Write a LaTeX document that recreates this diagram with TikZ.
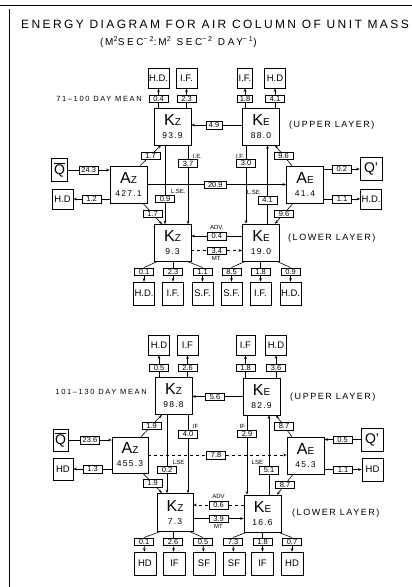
\documentclass[tikz,border=0pt]{standalone}
\usepackage{fontspec}
\setmainfont{Liberation Sans}
\usetikzlibrary{positioning,arrows.meta}

\newcommand{\ename}[2]{{\fontsize{16}{16}\selectfont #1}{\fontsize{10}{10}\selectfont #2}}

\tikzset{
  store/.style={draw, fill=white, line width=0.6pt, minimum width=37pt,
    minimum height=37pt, inner sep=0pt, align=center,
    font=\fontsize{8.5}{13}\selectfont\addfontfeature{LetterSpace=15}},
  sink/.style={draw, line width=0.6pt, minimum width=21pt, minimum height=20pt,
    inner sep=0pt, font=\fontsize{9.5}{10}\selectfont},
  val/.style={draw, solid, fill=white, line width=0.5pt, minimum width=19pt,
    minimum height=7.5pt, inner sep=0pt, font=\fontsize{7.5}{7.5}\selectfont},
  flowtag/.style={inner sep=0pt, font=\fontsize{6}{6}\selectfont},
  tier/.style={anchor=west, inner sep=0pt,
    font=\fontsize{9}{9}\selectfont\addfontfeature{LetterSpace=17}},
  mean/.style={anchor=east, inner sep=0pt,
    font=\fontsize{7.5}{8}\selectfont\addfontfeature{LetterSpace=22}},
  wire/.style={line width=0.6pt},
  flow/.style={line width=0.6pt, -{Stealth[length=3.5pt,width=2.6pt]}},
}

\begin{document}
\begin{tikzpicture}[x=1pt, y=-1pt]
  \useasboundingbox (0,0) rectangle (412,587);
  \draw[wire] (0,5) -- (412,5);
  \draw[wire] (9,9) -- (9,587);

  \node (title) [anchor=west, inner sep=0pt,
        font=\fontsize{12}{12}\selectfont\addfontfeature{LetterSpace=20}]
        at (21,24) {ENERGY DIAGRAM FOR AIR COLUMN OF UNIT MASS};
  \node (units) [anchor=west, inner sep=0pt,
        font=\fontsize{10}{10}\selectfont\addfontfeature{LetterSpace=26}]
        at (100,42) {(\,M\textsuperscript{2}SEC\textsuperscript{−2}:\,M\textsuperscript{2} SEC\textsuperscript{−2} DAY\textsuperscript{−1})};

  % 71-100 day mean
  \node (hd_a1) [sink] at (158.5,78) {H.D.};
  \node (if_a1) [sink] at (186.5,78) {I.F.};
  \node (if_c1) [sink, minimum width=15pt] at (245,78) {I.F.};
  \node (hd_c1) [sink] at (275,78) {H.D};
  \node (v_04) [val] at (158.5,98.5) {0.4};
  \node (v_23) [val] at (186.5,98.5) {2.3};
  \node (v_18) [val, minimum width=15pt] at (245,98.5) {1.8};
  \node (v_41) [val] at (275,98.5) {4.1};

  \node (kz_u1) [store] at (172.5,126.5) {\ename{K}{Z}\\93.9};
  \node (ke_u1) [store] at (261,126.5) {\ename{K}{E}\\88.0};
  \node (mean1) [mean] at (142,99) {71–100 DAY MEAN};
  \node (up1) [tier] at (289,125) {(UPPER LAYER)};

  \node (az1) [store] at (128.5,184.5) {\ename{A}{Z}\\427.1};
  \node (ae1) [store] at (305,184.5) {\ename{A}{E}\\41.4};
  \node (qbar1) [sink, minimum width=16pt, minimum height=23pt,
        font=\fontsize{14}{14}\selectfont] at (59.5,170) {$\overline{\mbox{Q}}$};
  \node (hd_l1) [sink] at (62.5,199) {H.D};
  \node (qp1) [sink, minimum width=22pt, minimum height=23pt,
        font=\fontsize{14}{14}\selectfont] at (371,169) {Q’};
  \node (hd_r1) [sink] at (371,199) {H.D.};

  \node (kz_l1) [store] at (172.5,243) {\ename{K}{Z}\\9.3};
  \node (ke_l1) [store] at (261,242.5) {\ename{K}{E}\\19.0};
  \node (lo1) [tier] at (288,238) {(LOWER LAYER)};

  \node (v_01a) [val] at (144,271.5) {0.1};
  \node (v_23b) [val] at (173,271.5) {2.3};
  \node (v_11b) [val] at (202.5,271.5) {1.1};
  \node (v_85) [val] at (231.5,271.5) {8.5};
  \node (v_18b) [val] at (260.5,271.5) {1.8};
  \node (v_09b) [val] at (290.5,271.5) {0.9};
  \node (hd_b1) [sink, minimum height=23pt] at (144,293.5) {H.D.};
  \node (if_b1) [sink, minimum height=23pt] at (173,293.5) {I.F.};
  \node (sf_b1) [sink, minimum height=23pt] at (202.5,293.5) {S.F.};
  \node (sf_b2) [sink, minimum height=23pt] at (231.5,293.5) {S.F.};
  \node (if_b2) [sink, minimum height=23pt] at (260.5,293.5) {I.F.};
  \node (hd_b2) [sink, minimum height=23pt] at (290.5,293.5) {H.D.};

  \draw[wire] (v_04) -- (v_04 |- kz_u1.north);
  \draw[wire] (v_23) -- (v_23 |- kz_u1.north);
  \draw[wire] (v_18) -- (v_18 |- ke_u1.north);
  \draw[wire] (v_41) -- (v_41 |- ke_u1.north);
  \draw[flow] (v_04) -- (hd_a1);
  \draw[flow] (v_23) -- (if_a1);
  \draw[flow] (v_18) -- (if_c1);
  \draw[flow] (v_41) -- (hd_c1);

  \draw[flow] ([yshift=1.5pt]ke_u1.west) -- node[val, minimum width=16pt, pos=.55] (v_49) {4.9}
        ([yshift=1.5pt]ke_u1.west -| kz_u1.east);
  \draw[flow] ([xshift=11.5pt]az1.north) -- node[val] (v_17a) {1.7} ([xshift=-11.5pt]kz_u1.south);
  \draw[flow] ([xshift=14.5pt]az1.south) -- node[val] (v_17b) {1.7} ([xshift=-10.5pt]kz_l1.north);
  \draw[flow] ([xshift=-7.5pt]kz_u1.south) -- node[val, pos=.68] (v_09) {0.9} ([xshift=-7.5pt]kz_l1.north);
  \node (lse1) [flowtag, above right=1pt and -4pt of v_09] {L.SE.};
  \draw[flow] ([xshift=15.5pt]kz_u1.south) -- node[val, pos=.23] (v_37) {3.7} ([xshift=15.5pt]kz_l1.north);
  \node (ie1) [flowtag, above right=1pt and -5pt of v_37] {I.E.};
  \draw[flow] ([xshift=-15pt]ke_u1.south) -- node[val, pos=.23] (v_30) {3.0} ([xshift=-15pt]ke_l1.north);
  \node (if1) [flowtag, above left=1pt and -8pt of v_30] {I.F.};
  \draw[flow] ([xshift=6.5pt]ke_l1.north) -- node[val, pos=.3] (v_41b) {4.1} ([xshift=6.5pt]ke_u1.south);
  \node (lse2) [flowtag, above left=1pt and -4pt of v_41b] {L.SE.};
  \draw[flow, line width=0.9pt] (az1) -- node[val, minimum width=22pt, pos=.49] (v_209) {20.9} (az1 -| ae1.west);
  \draw[flow] ([xshift=-13pt]ae1.north) -- node[val] (v_96a) {9.6} ([xshift=14pt]ke_u1.south);
  \draw[flow] ([xshift=-12pt]ae1.south) -- node[val] (v_96b) {9.6} ([xshift=14pt]ke_l1.north);
  \draw[flow] (ae1.east |- qp1) -- node[val] (v_02) {0.2} (qp1);
  \draw[flow] (ae1.east |- hd_r1) -- node[val] (v_11a) {1.1} (hd_r1);
  \draw[flow] (qbar1) -- node[val] (v_243) {24.3} (qbar1 -| az1.west);
  \draw[flow] (az1.west |- hd_l1) -- node[val] (v_12) {1.2} (hd_l1);
  \draw[flow] ([yshift=6.5pt]ke_l1.west) -- node[val] (v_04b) {0.4} ([yshift=6.5pt]ke_l1.west -| kz_l1.east);
  \node (adv1) [flowtag, above=2pt of v_04b] {ADV.};
  \draw[flow, dashed] ([yshift=-7.5pt]kz_l1.east) -- node[val] (v_34) {3.4} ([yshift=-7.5pt]kz_l1.east -| ke_l1.west);
  \node (mt1) [flowtag, below=2pt of v_34] {MT.};

  \draw[wire] ([xshift=3pt]kz_l1.south west) -- (v_01a.north);
  \draw[wire] (v_23b |- kz_l1.south) -- (v_23b);
  \draw[wire] ([xshift=-3pt]kz_l1.south east) -- (v_11b.north);
  \draw[wire] ([xshift=3pt]ke_l1.south west) -- (v_85.north);
  \draw[wire] (v_18b |- ke_l1.south) -- (v_18b);
  \draw[wire] ([xshift=-3pt]ke_l1.south east) -- (v_09b.north);
  \draw[flow] (v_01a) -- (hd_b1);
  \draw[flow] (v_23b) -- (if_b1);
  \draw[flow] (v_11b) -- (sf_b1);
  \draw[flow] (v_85) -- (sf_b2);
  \draw[flow] (v_18b) -- (if_b2);
  \draw[flow] (v_09b) -- (hd_b2);

  % 101-130 day mean
  \node (hd_a2) [sink] at (159,345) {H.D};
  \node (if_a2) [sink] at (187.5,345) {I.F};
  \node (if_c2) [sink, minimum width=19pt] at (245.5,345) {I.F};
  \node (hd_c2) [sink] at (276,345) {H.D};
  \node (v_05) [val] at (159,367.5) {0.5};
  \node (v_26) [val] at (187.5,367.5) {2.6};
  \node (v_18c) [val] at (245.5,367.5) {1.8};
  \node (v_36) [val] at (276,367.5) {3.6};

  \node (kz_u2) [store] at (173.5,396) {\ename{K}{Z}\\98.8};
  \node (ke_u2) [store] at (261.5,396.5) {\ename{K}{E}\\82.9};
  \node (mean2) [mean] at (147,392) {101–130 DAY MEAN};
  \node (up2) [tier] at (290,397) {(UPPER LAYER)};

  \node (az2) [store, minimum width=36pt, minimum height=36pt] at (130,455) {\ename{A}{Z}\\455.3};
  \node (ae2) [store] at (305.5,455.5) {\ename{A}{E}\\45.3};
  \node (qbar2) [sink, minimum width=15pt, minimum height=22pt,
        font=\fontsize{14}{14}\selectfont] at (60.5,440) {$\overline{\mbox{Q}}$};
  \node (hd_l2) [sink, minimum width=20pt, minimum height=22pt] at (63,469) {HD};
  \node (qp2) [sink, minimum width=22pt, minimum height=23pt,
        font=\fontsize{14}{14}\selectfont] at (372,439.5) {Q’};
  \node (hd_r2) [sink, minimum height=23pt] at (372.5,469.5) {HD};

  \node (kz_l2) [store, minimum width=36pt, minimum height=38pt] at (175,512.5) {\ename{K}{Z}\\7.3};
  \node (ke_l2) [store] at (262.5,513.5) {\ename{K}{E}\\16.6};
  \node (lo2) [tier] at (292,513) {(LOWER LAYER)};

  \node (v_01c) [val] at (144,541.5) {0.1};
  \node (v_26b) [val] at (173,541.5) {2.6};
  \node (v_05b) [val] at (203,541.5) {0.5};
  \node (v_73) [val] at (233,541.5) {7.3};
  \node (v_18d) [val] at (262.5,541.5) {1.8};
  \node (v_07) [val] at (292,541.5) {0.7};
  \node (hd_b3) [sink, minimum width=22pt, minimum height=23pt] at (145,563.5) {HD};
  \node (if_b3) [sink, minimum width=22pt, minimum height=23pt] at (174.5,563.5) {IF};
  \node (sf_b3) [sink, minimum width=22pt, minimum height=23pt] at (204,563.5) {SF};
  \node (sf_b4) [sink, minimum width=22pt, minimum height=23pt] at (234,563.5) {SF};
  \node (if_b4) [sink, minimum width=22pt, minimum height=23pt] at (262.5,563.5) {IF};
  \node (hd_b4) [sink, minimum width=22pt, minimum height=23pt] at (292,563.5) {HD};

  \draw[wire] (v_05) -- (v_05 |- kz_u2.north);
  \draw[wire] (v_26) -- (v_26 |- kz_u2.north);
  \draw[wire] (v_18c) -- (v_18c |- ke_u2.north);
  \draw[wire] (v_36) -- (v_36 |- ke_u2.north);
  \draw[flow] (v_05) -- (hd_a2);
  \draw[flow] (v_26) -- (if_a2);
  \draw[flow] (v_18c) -- (if_c2);
  \draw[flow] (v_36) -- (hd_c2);

  \draw[flow] (ke_u2) -- node[val, pos=.55] (v_56) {5.6} (ke_u2 -| kz_u2.east);
  \draw[flow] ([xshift=11pt]az2.north) -- node[val] (v_19a) {1.9} ([xshift=-11.5pt]kz_u2.south);
  \draw[flow] ([xshift=13pt]az2.south) -- node[val] (v_19b) {1.9} ([xshift=-13pt]kz_l2.north);
  \draw[flow] ([xshift=-6.5pt]kz_u2.south) -- node[val, pos=.7] (v_02b) {0.2} ([xshift=-8pt]kz_l2.north);
  \node (lse3) [flowtag, above right=1pt and -4pt of v_02b] {LSE};
  \draw[flow] ([xshift=14.5pt]kz_u2.south) -- node[val, pos=.245] (v_40) {4.0} ([xshift=13pt]kz_l2.north);
  \node (if3) [flowtag, above right=1pt and -5pt of v_40] {IF};
  \draw[flow] ([xshift=-14.5pt]ke_u2.south) -- node[val, pos=.23] (v_29) {2.9} ([xshift=-15.5pt]ke_l2.north);
  \node (if4) [flowtag, above left=1pt and -8pt of v_29] {IF};
  \draw[flow] ([xshift=6.5pt]ke_l2.north) -- node[val, pos=.31] (v_51) {5.1} ([xshift=7.5pt]ke_u2.south);
  \node (lse4) [flowtag, above left=1pt and -4pt of v_51] {LSE};
  \draw[flow, dashed] (az2) -- node[val, pos=.49] (v_78) {7.8} (az2 -| ae2.west);
  \draw[flow] ([xshift=-13.5pt]ae2.north) -- node[val] (v_87a) {8.7} ([xshift=14.5pt]ke_u2.south);
  \draw[flow] ([xshift=-12.5pt]ae2.south) -- node[val] (v_87b) {8.7} ([xshift=14.5pt]ke_l2.north);
  \draw[flow] (qp2) -- node[val] (v_05c) {0.5} (qp2 -| ae2.east);
  \draw[flow] (ae2.east |- hd_r2) -- node[val] (v_11c) {1.1} (hd_r2);
  \draw[flow] (qbar2) -- node[val] (v_236) {23.6} (qbar2 -| az2.west);
  \draw[flow] (az2.west |- hd_l2) -- node[val] (v_13) {1.3} (hd_l2);
  \draw[flow, dashed] ([yshift=8.5pt]ke_l2.west) -- node[val] (v_06) {0.6} ([yshift=8.5pt]ke_l2.west -| kz_l2.east);
  \node (adv2) [flowtag, above=2pt of v_06] {ADV};
  \draw[flow] ([yshift=-6pt]kz_l2.east) -- node[val] (v_39) {3.9} ([yshift=-6pt]kz_l2.east -| ke_l2.west);
  \node (mt2) [flowtag, below=2pt of v_39] {MT};

  \draw[wire] ([xshift=3pt]kz_l2.south west) -- (v_01c.north);
  \draw[wire] (v_26b |- kz_l2.south) -- (v_26b);
  \draw[wire] ([xshift=-3pt]kz_l2.south east) -- (v_05b.north);
  \draw[wire] ([xshift=3pt]ke_l2.south west) -- (v_73.north);
  \draw[wire] (v_18d |- ke_l2.south) -- (v_18d);
  \draw[wire] ([xshift=-3pt]ke_l2.south east) -- (v_07.north);
  \draw[flow] (v_01c) -- (hd_b3);
  \draw[flow] (v_26b) -- (if_b3);
  \draw[flow] (v_05b) -- (sf_b3);
  \draw[flow] (v_73) -- (sf_b4);
  \draw[flow] (v_18d) -- (if_b4);
  \draw[flow] (v_07) -- (hd_b4);
\end{tikzpicture}
\end{document}
